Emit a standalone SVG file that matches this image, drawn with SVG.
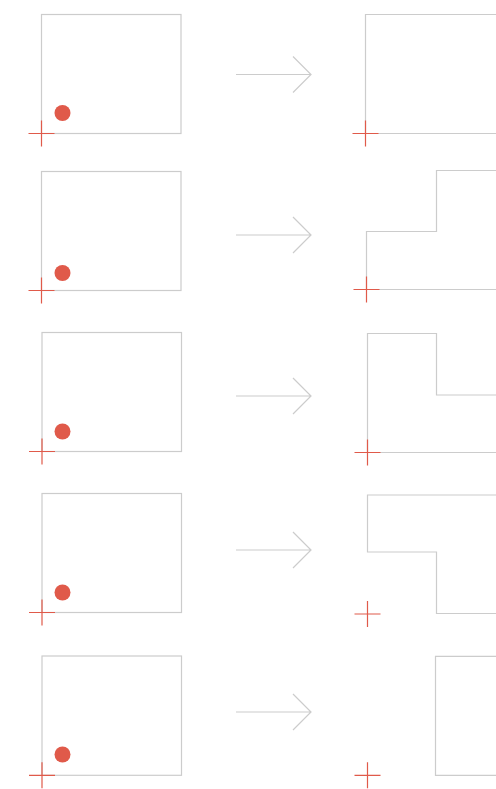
<svg xmlns="http://www.w3.org/2000/svg" width="496" height="789" viewBox="0 0 496 789">
<style>
.box{fill:none;stroke:#cccccc;stroke-width:1.2}
.dot{fill:#e05a4a}
.cross{stroke:#e05a4a;stroke-width:1.2}
.arr{fill:none;stroke:#cccccc;stroke-width:1.2}
</style>
<rect width="496" height="789" fill="#ffffff"/>
<g id="row1-before">
<rect class="box" x="41.5" y="14.5" width="139.5" height="119"/>
<circle class="dot" cx="62.5" cy="113" r="8"/>
<path class="cross" d="M28.5 133.5H54.5M41.5 120.5V146.5"/>
</g>
<g id="row1-after">
<path class="box" d="M496 14.5H365.5V133.5H496"/>
<path class="cross" d="M352.5 133.5H378.5M365.5 120.5V146.5"/>
</g>
<g id="row2-before">
<rect class="box" x="41.5" y="171.5" width="139.5" height="119"/>
<circle class="dot" cx="62.5" cy="273" r="8"/>
<path class="cross" d="M28.5 290.5H54.5M41.5 277.5V303.5"/>
</g>
<g id="row2-after">
<path class="box" d="M496 170.5H436.5V231.5H366.5V289.5H496"/>
<path class="cross" d="M353.5 289.5H379.5M366.5 276.5V302.5"/>
</g>
<g id="row3-before">
<rect class="box" x="42" y="332.5" width="139.5" height="119"/>
<circle class="dot" cx="62.5" cy="431.5" r="8"/>
<path class="cross" d="M29 451.5H55M42 438.5V464.5"/>
</g>
<g id="row3-after">
<path class="box" d="M496 395H436.5V333.5H367.5V452.5H496"/>
<path class="cross" d="M354.5 452.5H380.5M367.5 439.5V465.5"/>
</g>
<g id="row4-before">
<rect class="box" x="42" y="493.5" width="139.5" height="119"/>
<circle class="dot" cx="62.5" cy="592.5" r="8"/>
<path class="cross" d="M29 612.5H55M42 599.5V625.5"/>
</g>
<g id="row4-after">
<path class="box" d="M496 495H367.5V552H436.5V613.5H496"/>
<path class="cross" d="M354.5 614H380.5M367.5 601V627"/>
</g>
<g id="row5-before">
<rect class="box" x="42" y="656" width="139.5" height="119.3"/>
<circle class="dot" cx="62.5" cy="754.5" r="8"/>
<path class="cross" d="M29 775.3H55M42 762.3V788.3"/>
</g>
<g id="row5-after">
<path class="box" d="M496 656.3H435.5V775.3H496"/>
<path class="cross" d="M354.5 775.3H380.5M367.5 762.3V788.3"/>
</g>
<g id="connectors">
<path class="arr" d="M236 74.5H311M293 56.5L311 74.5L293 92.5"/>
<path class="arr" d="M236 235H311M293 217L311 235L293 253"/>
<path class="arr" d="M236 396H311M293 378L311 396L293 414"/>
<path class="arr" d="M236 550H311M293 532L311 550L293 568"/>
<path class="arr" d="M236 712H311M293 694L311 712L293 730"/>
</g>
</svg>
